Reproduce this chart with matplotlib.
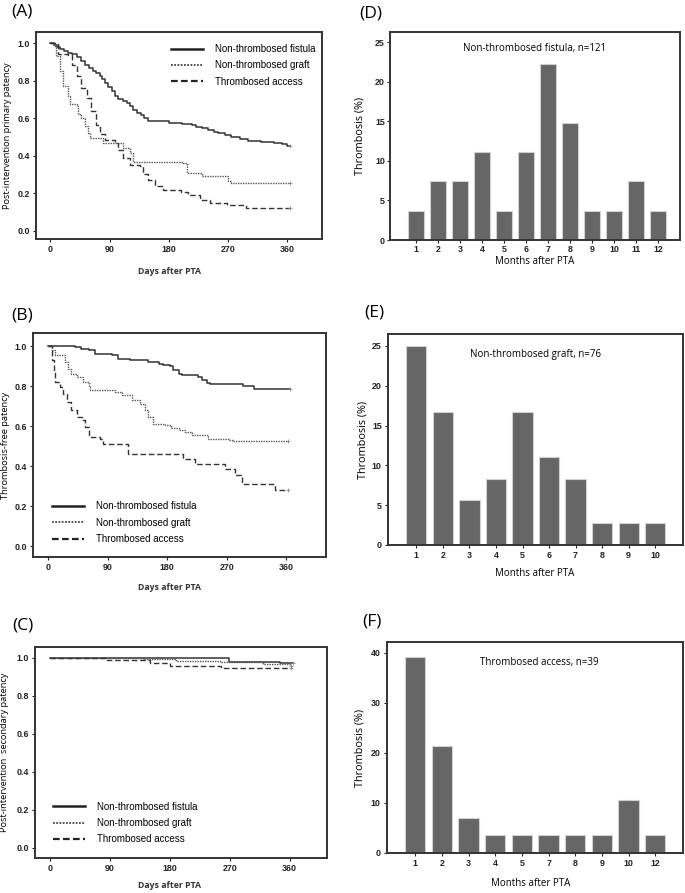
import matplotlib
matplotlib.use('Agg')
import matplotlib.pyplot as plt
from matplotlib.lines import Line2D

plt.rcParams['font.family'] = ['Liberation Sans', 'DejaVu Sans']

W, H = 685, 893

# ---- Kaplan-Meier step data (days, survival) ----
a_fistula_t = [0, 5, 10, 15, 20, 27, 33, 40, 46, 52, 58, 65, 70, 75, 79, 83, 88, 93, 98, 103, 110, 116,
               121, 126, 132, 138, 143, 148, 181, 200, 215, 222, 230, 240, 248, 255, 265, 275, 288, 300,
               320, 340, 352, 360, 364]
a_fistula_s = [1.0, 0.99, 0.98, 0.97, 0.96, 0.95, 0.94, 0.925, 0.905, 0.886, 0.87, 0.851, 0.84, 0.824,
               0.81, 0.79, 0.767, 0.745, 0.72, 0.70, 0.69, 0.68, 0.665, 0.646, 0.63, 0.619, 0.60, 0.584,
               0.575, 0.57, 0.563, 0.555, 0.548, 0.535, 0.527, 0.52, 0.509, 0.50, 0.49, 0.48, 0.475,
               0.47, 0.46, 0.45, 0.45]
a_graft_t = [0, 6, 9, 14, 19, 27, 29, 40, 42, 47, 52, 57, 60, 80, 110, 121, 126, 202, 207, 230, 270, 275, 364]
a_graft_s = [1.0, 0.985, 0.93, 0.85, 0.77, 0.717, 0.673, 0.665, 0.62, 0.60, 0.557, 0.52, 0.495, 0.468,
             0.44, 0.415, 0.367, 0.36, 0.308, 0.29, 0.264, 0.256, 0.256]
a_throm_t = [0, 11, 27, 32, 40, 47, 55, 62, 70, 75, 83, 98, 103, 110, 121, 136, 141, 148, 159, 171, 199,
             209, 227, 242, 268, 298, 364]
a_throm_s = [1.0, 0.94, 0.935, 0.886, 0.824, 0.762, 0.708, 0.637, 0.566, 0.513, 0.486, 0.468, 0.432,
             0.388, 0.352, 0.345, 0.30, 0.272, 0.237, 0.219, 0.207, 0.19, 0.165, 0.148, 0.139, 0.12, 0.12]

b_fistula_t = [0, 40, 50, 61, 71, 96, 106, 124, 151, 167, 174, 184, 189, 197, 202, 227, 232, 240, 245,
               295, 311, 365]
b_fistula_s = [1.0, 0.995, 0.988, 0.98, 0.963, 0.955, 0.938, 0.93, 0.92, 0.913, 0.905, 0.90, 0.88, 0.863,
               0.855, 0.847, 0.83, 0.817, 0.81, 0.80, 0.787, 0.787]
b_graft_t = [0, 5, 10, 25, 30, 35, 43, 53, 61, 63, 101, 111, 126, 139, 146, 151, 159, 177, 186, 197, 207,
             217, 242, 273, 280, 362]
b_graft_s = [1.0, 0.98, 0.955, 0.92, 0.888, 0.863, 0.847, 0.82, 0.797, 0.78, 0.772, 0.755, 0.73, 0.713,
             0.68, 0.647, 0.613, 0.605, 0.593, 0.583, 0.572, 0.555, 0.538, 0.533, 0.526, 0.526]
b_throm_t = [0, 5, 8, 10, 18, 23, 28, 35, 43, 51, 56, 61, 78, 83, 121, 204, 222, 268, 283, 293, 343, 362]
b_throm_s = [1.0, 0.93, 0.88, 0.82, 0.797, 0.763, 0.72, 0.68, 0.647, 0.63, 0.597, 0.547, 0.538, 0.513,
             0.463, 0.438, 0.413, 0.388, 0.355, 0.31, 0.283, 0.283]

c_fistula_t = [0, 269, 346, 365]
c_fistula_s = [1.0, 0.977, 0.972, 0.972]
c_graft_t = [0, 140, 189, 255, 320, 362]
c_graft_s = [1.0, 0.995, 0.982, 0.977, 0.97, 0.958]
c_throm_t = [0, 85, 151, 181, 257, 362]
c_throm_s = [1.0, 0.988, 0.974, 0.96, 0.947, 0.947]

groups = ['Non-thrombosed fistula', 'Non-thrombosed graft', 'Thrombosed access']

# ---- thrombosis histograms ----
d_months = ['1', '2', '3', '4', '5', '6', '7', '8', '9', '10', '11', '12']
d_pct = [3.7, 7.4, 7.4, 11.1, 3.7, 11.1, 22.2, 14.8, 3.7, 3.7, 7.4, 3.7]
e_months = ['1', '2', '3', '4', '5', '6', '7', '8', '9', '10']
e_pct = [25.0, 16.7, 5.6, 8.3, 16.7, 11.1, 8.3, 2.8, 2.8, 2.8]
f_months = ['1', '2', '3', '4', '5', '7', '8', '9', '10', '12']
f_pct = [39.3, 21.4, 7.1, 3.6, 3.6, 3.6, 3.6, 3.6, 10.7, 3.6]

fig = plt.figure(figsize=(W / 100, H / 100), dpi=100)


def rect(l, t, r, b):
    return [l / W, 1 - b / H, (r - l) / W, (b - t) / H]


def ftext(x, y, s, **kw):
    # place text using pixel coords measured from the top-left corner
    fig.text(x / W, 1 - y / H, s, ha='center', va='center', **kw)


def style_axes(ax, pad=2):
    for sp in ax.spines.values():
        sp.set_linewidth(1.4)
        sp.set_color('#333333')
    ax.tick_params(labelsize=6.4, length=2.5, width=0.8, pad=pad, colors='#222222')
    for lab in ax.get_xticklabels() + ax.get_yticklabels():
        lab.set_fontweight('bold')


line_styles = [
    dict(color='#333333', lw=1.1, ls='-'),
    dict(color='#555555', lw=1.0, ls=(0, (1, 0.8))),
    dict(color='#333333', lw=1.0, ls=(0, (4, 2))),
]
legend_styles = [
    dict(color='#222222', lw=1.8, ls='-'),
    dict(color='#444444', lw=1.3, ls=(0, (1, 0.8))),
    dict(color='#222222', lw=1.6, ls=(0, (3, 1.5))),
]


def km_panel(box, curves, ylabel, xlim, ylim, leg_anchor, xlab_y, ylab_x, letter, letter_pos):
    ax = fig.add_axes(rect(*box))
    for (t, s), st in zip(curves, line_styles):
        ax.step(t, s, where='post', **st)
        ax.plot(t[-1], s[-1], marker='+', color='#888888', ms=3, mew=0.6)
    ax.set_xlim(*xlim)
    ax.set_ylim(*ylim)
    ax.set_xticks([0, 90, 180, 270, 360])
    ax.set_yticks([0.0, 0.2, 0.4, 0.6, 0.8, 1.0])
    ax.set_yticklabels(['0.0', '0.2', '0.4', '0.6', '0.8', '1.0'])
    style_axes(ax)
    handles = [Line2D([0], [0], **st) for st in legend_styles]
    ax.legend(handles, groups, loc='upper left', bbox_to_anchor=leg_anchor, frameon=False,
              fontsize=7, handlelength=3.3, labelspacing=0.65, handletextpad=1.2, borderpad=0)
    l, t, r, b = box
    ftext(ylab_x, (t + b) / 2, ylabel, fontsize=6.7, family='Open Sans', rotation=90)
    ftext(170, xlab_y, 'Days after PTA', fontsize=6.3, fontweight='bold',
          family='Open Sans', color='#333333')
    fig.text(letter_pos[0] / W, 1 - letter_pos[1] / H, letter, fontsize=12.5, family='Open Sans',
             ha='left', va='center')
    return ax


km_panel((36, 32, 322, 239),
         [(a_fistula_t, a_fistula_s), (a_graft_t, a_graft_s), (a_throm_t, a_throm_s)],
         'Post-intervention primary patency', (-22, 413), (-0.045, 1.06),
         (0.455, 0.965), 272, 8, '(A)', (11, 12))
km_panel((33, 333, 326, 557),
         [(b_fistula_t, b_fistula_s), (b_graft_t, b_graft_s), (b_throm_t, b_throm_s)],
         'Thrombosis-free patency', (-23, 420), (-0.053, 1.067),
         (0.048, 0.27), 588, 6, '(B)', (11, 316))
km_panel((35, 647, 327, 858),
         [(c_fistula_t, c_fistula_s), (c_graft_t, c_graft_s), (c_throm_t, c_throm_s)],
         'Post-intervention  secondary patency', (-22, 416), (-0.055, 1.058),
         (0.045, 0.29), 886, 5, '(C)', (12, 625))


def bar_panel(box, months, pct, ylim, yticks, xlim, title, title_pos, xlab_pos, ylab_x, letter, letter_pos,
              pad=2):
    ax = fig.add_axes(rect(*box))
    pos = list(range(1, len(months) + 1))
    ax.bar(pos, pct, width=0.76, color='#666666', edgecolor='#d0d0d0', linewidth=0.8)
    ax.set_xticks(pos)
    ax.set_xticklabels(months)
    ax.set_yticks(yticks)
    ax.set_xlim(*xlim)
    ax.set_ylim(*ylim)
    style_axes(ax, pad)
    l, t, r, b = box
    ftext(ylab_x, (t + b) / 2, 'Thrombosis (%)', fontsize=7.8, family='Open Sans', rotation=90)
    ftext(title_pos[0], title_pos[1], title, fontsize=7, family='Open Sans')
    ftext(xlab_pos[0], xlab_pos[1], 'Months after PTA', fontsize=7, family='Open Sans')
    fig.text(letter_pos[0] / W, 1 - letter_pos[1] / H, letter, fontsize=12.5, family='Open Sans',
             ha='left', va='center')
    return ax


bar_panel((390, 32, 680, 240), d_months, d_pct, (0, 26.3), [0, 5, 10, 15, 20, 25],
          (-0.18, 13.0), 'Non-thrombosed fistula, n=121', (535, 48), (535, 261), 360, '(D)', (359, 13),
          pad=1.2)
bar_panel((388, 334, 683, 545), e_months, e_pct, (0, 26.5), [0, 5, 10, 15, 20, 25],
          (-0.07, 11.05), 'Non-thrombosed graft, n=76', (536, 354), (535, 573), 363, '(E)', (364, 313))
bar_panel((387, 642, 683, 853), f_months, f_pct, (0, 42.2), [0, 10, 20, 30, 40],
          (-0.06, 11.04), 'Thrombosed access, n=39', (539, 662), (531, 884), 360, '(F)', (362, 622))

fig.savefig('out.png', dpi=100)
